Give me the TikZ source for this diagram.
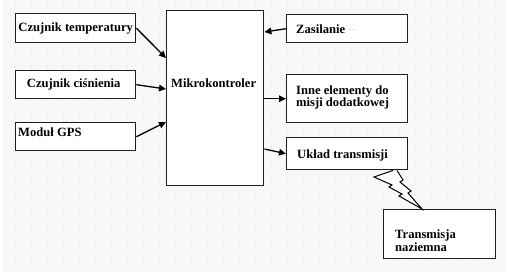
\documentclass[tikz,border=0pt]{standalone}
\usepackage{fontspec}
\setmainfont{Liberation Serif}
\usetikzlibrary{arrows.meta,calc}
\definecolor{bgc}{RGB}{248,248,250}
\definecolor{dotc}{RGB}{195,195,202}
\definecolor{edgec}{RGB}{30,30,30}
\begin{document}
\begin{tikzpicture}[x=1pt,y=-1pt,
  blk/.style={draw=edgec,line width=1.4pt,fill=white,inner sep=0pt,anchor=north west},
  lbl/.style={inner sep=0pt,anchor=base west,font=\bfseries\fontsize{12.6}{12.5}\selectfont},
  arr/.style={line width=1.3pt,-{Triangle[length=7pt,width=6.5pt]}}]
\useasboundingbox (0,0) rectangle (509,277);
\fill[white] (0,0) rectangle (509,277);
\fill[bgc] (3,0) rectangle (506,272);
\foreach \x in {15,31,...,505}{\foreach \y in {3,19,...,270}{\fill[dotc] (\x,\y) circle (0.7pt);}}
% boxes
\node[blk,minimum width=120pt,minimum height=29pt] (temp) at (15,13) {};
\node[blk,minimum width=120pt,minimum height=28pt] (cisn) at (15,70) {};
\node[blk,minimum width=120pt,minimum height=28pt] (gps) at (15,122) {};
\node[blk,minimum width=97pt,minimum height=175pt] (mk) at (166,10) {};
\node[blk,minimum width=121pt,minimum height=28pt] (zas) at (286,14) {};
\node[blk,minimum width=121pt,minimum height=48pt] (inne) at (286,74) {};
\node[blk,minimum width=121pt,minimum height=32pt] (uk) at (286,137) {};
\node[blk,minimum width=112pt,minimum height=49pt] (tn) at (383,209) {};
% labels
\node[inner sep=0pt,font=\bfseries\fontsize{12.6}{12.5}\selectfont] (ttemp) at (temp.center) {Czujnik temperatury};
\node[inner sep=0pt,font=\bfseries\fontsize{12.6}{12.5}\selectfont] (tcisn) at ($(cisn.center)+(-2,0)$) {Czujnik ciśnienia};
\node[lbl] (tgps) at (18,136) {Moduł GPS};
\node[lbl] (tmk) at (171,87) {Mikrokontroler};
\node[lbl] (tzas) at (296,33) {Zasilanie};
\node[inner sep=0pt,anchor=base west,text=gray!80,font=\fontsize{7}{7}\selectfont] (tzasd) at (349,31) {-\,-};
\node[lbl,align=left,anchor=north west] (tinne) at (296,86) {Inne elementy do\\[-0.5pt]misji dodatkowej};
\node[lbl] (tuk) at (297,158) {Układ transmisji};
\node[lbl,align=left,anchor=north west] (ttn) at (395,230) {Transmisja\\[0pt]naziemna};
% connectors
\draw[arr] (temp.east) -- ($(mk.north west)+(0,48)$);
\draw[arr] (cisn.east) -- ($(mk.north west)+(0,79)$);
\draw[arr] (gps.east) -- ($(mk.north west)+(0,112)$);
\draw[arr] (zas.west) -- ($(mk.north east)+(0,22)$);
\draw[arr] (mk.east |- inne.west) -- (inne.west);
\draw[arr] ($(mk.north east)+(0,139)$) -- (uk.west);
% lightning
\draw[line width=1pt,line join=miter,fill=white] ($(uk.south west)+(107,0)$) -- (374,177) -- (392,185) -- (389,187) -- (402,194) -- (399,196) -- ($(tn.north west)+(39,0)$) -- (408,193) -- (411,191) -- (400,182) -- (403,180) -- ($(uk.south west)+(111,0)$);
\end{tikzpicture}
\end{document}
